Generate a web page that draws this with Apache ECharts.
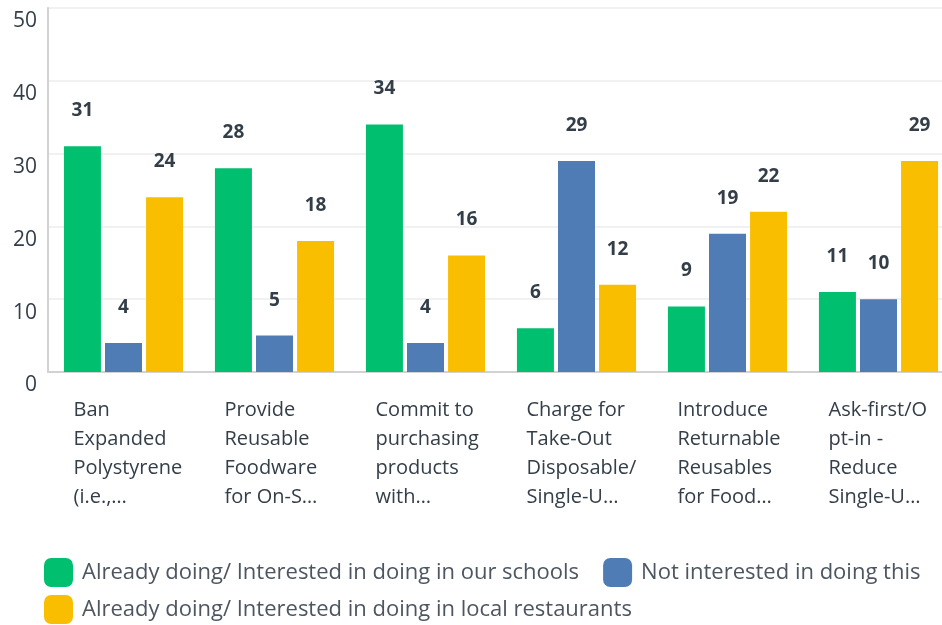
<!DOCTYPE html>
<html><head><meta charset="utf-8">
<script src="https://cdn.jsdelivr.net/npm/echarts@6/dist/echarts.min.js"></script>
<style>html,body{margin:0;padding:0;background:#fff;overflow:hidden}#c{width:954px;height:625px}</style>
</head><body><div id="c"></div>
<script>
const categories = [
  "Ban\nExpanded\nPolystyrene\n(i.e.,…",
  "Provide\nReusable\nFoodware\nfor On-S…",
  "Commit to\npurchasing\nproducts\nwith…",
  "Charge for\nTake-Out\nDisposable/\nSingle-U…",
  "Introduce\nReturnable\nReusables\nfor Food…",
  "Ask-first/O\npt-in -\nReduce\nSingle-U…"
];
const seriesNames = [
  "Already doing/ Interested in doing in our schools",
  "Not interested in doing this",
  "Already doing/ Interested in doing in local restaurants"
];
const schools = [31, 28, 34, 6, 9, 11];
const notInterested = [4, 5, 4, 29, 19, 10];
const restaurants = [24, 18, 16, 12, 22, 29];
const yTicks = { min: 0, max: 50, interval: 10 };

const colors = ['#00bf6f', '#507cb6', '#f9be00'];
const FONT = 'Open Sans';
const TXT = '#333e48';
const chart = echarts.init(document.getElementById('c'));
const mk = (name, data, i) => ({
  name, type: 'bar', data,
  barWidth: 37, barGap: '11%',
  itemStyle: { color: colors[i] },
  label: { show: true, position: 'top', distance: 26, fontFamily: FONT, fontSize: 19, fontWeight: 'bold', color: TXT }
});
const legendBase = {
  itemWidth: 29, itemHeight: 29, itemGap: 24, padding: 0,
  icon: 'roundRect', orient: 'horizontal',
  textStyle: { fontFamily: FONT, fontSize: 22, color: '#4d5660', padding: [2, 0, 0, 4] }
};
chart.setOption({
  animation: false,
  color: colors,
  textStyle: { fontFamily: FONT },
  grid: { left: 48, right: 0, top: 8, bottom: 253, containLabel: false },
  xAxis: {
    type: 'category', data: categories,
    axisLine: { lineStyle: { color: '#d2d2d2', width: 2 } },
    axisTick: { show: false },
    axisLabel: {
      interval: 0, margin: 24,
      formatter: v => v.split('\n').map(s => '{a|' + s + '}').join('\n'),
      rich: { a: { width: 100, align: 'left', fontFamily: FONT, fontSize: 20, lineHeight: 29, color: TXT } }
    }
  },
  yAxis: {
    type: 'value', min: yTicks.min, max: yTicks.max, interval: yTicks.interval,
    axisLine: { show: true, lineStyle: { color: '#d2d2d2', width: 2 } },
    axisTick: { show: false },
    splitLine: { lineStyle: { color: '#ececec', width: 1.5 } },
    axisLabel: { margin: 11, verticalAlign: 'top', padding: [3, 0, 0, 0], fontFamily: FONT, fontSize: 21, color: TXT }
  },
  legend: [
    Object.assign({ left: 44, top: 558, data: [seriesNames[0], seriesNames[1]] }, legendBase),
    Object.assign({ left: 44, top: 595, data: [seriesNames[2]] }, legendBase)
  ],
  series: [mk(seriesNames[0], schools, 0), mk(seriesNames[1], notInterested, 1), mk(seriesNames[2], restaurants, 2)]
});
</script></body></html>
